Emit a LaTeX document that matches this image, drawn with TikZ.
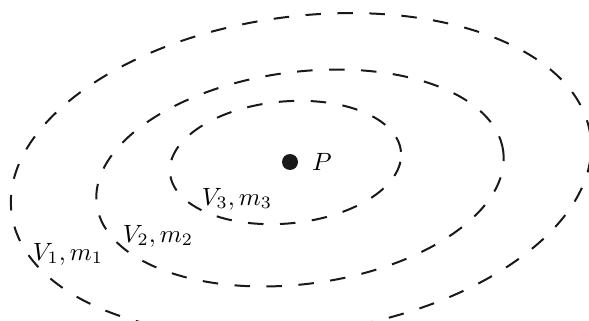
\documentclass[tikz,border=0pt]{standalone}
\newcommand{\bigmath}[1]{\scalebox{2.5}{$#1$}}
\tikzset{
  ring/.style={draw=black!90, line width=2pt, dash pattern=on 15.5pt off 16.5pt},
  lbl/.style={inner sep=0pt},
}
\begin{document}
\begin{tikzpicture}[x=1pt,y=-1pt]
\useasboundingbox (0,0) rectangle (589,321);
\clip (0,0) rectangle (589,321);
% outer
\draw[ring, rotate around={7.7:(301,174.5)}] (301,174.5) ellipse [x radius=292pt, y radius=158pt];
% middle
\draw[ring, rotate around={7.5:(300,178)}] (300,178) ellipse [x radius=205pt, y radius=106pt];
% inner
\draw[ring, rotate around={5.3:(285.5,162.5)}] (285.5,162.5) ellipse [x radius=116pt, y radius=61pt];
% point P
\node[circle, fill=black!90, minimum size=16pt, inner sep=0pt] (dot) at (290,162) {};
\node[lbl] (P) at (322,162) {\bigmath{P}};
\node[lbl] (L1) at (68,254) {\bigmath{V_1, m_1}};
\node[lbl] (L2) at (158,236) {\bigmath{V_2, m_2}};
\node[lbl] (L3) at (237,199) {\bigmath{V_3, m_3}};
\end{tikzpicture}
\end{document}
